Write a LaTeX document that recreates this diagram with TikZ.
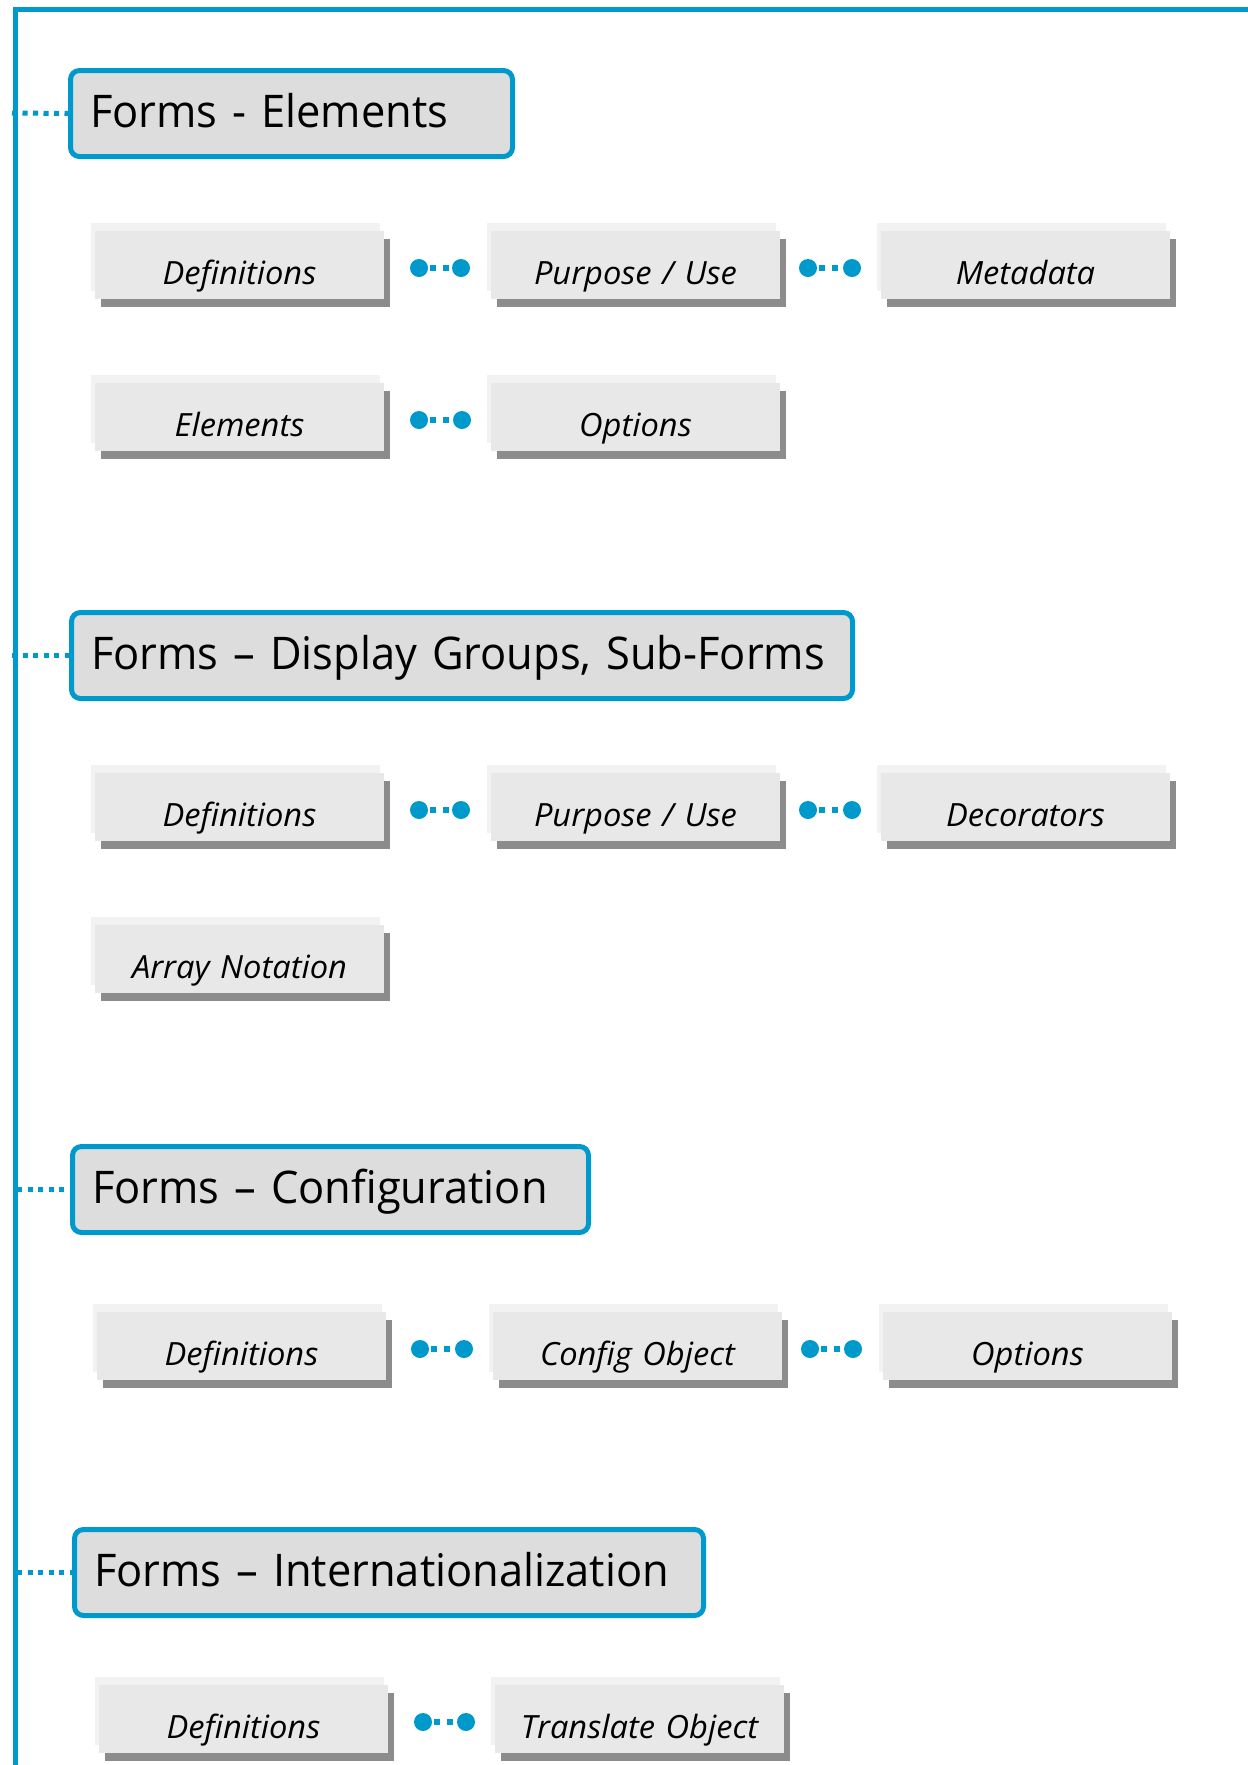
\documentclass[tikz,border=0pt]{standalone}
\usepackage{fontspec}
\newfontfamily\headfont[FakeStretch=0.965]{Open Sans}
\newfontfamily\leaffont[FakeStretch=1.02]{Open Sans}
\usetikzlibrary{backgrounds}

\definecolor{treeblue}{HTML}{0099CC}
\definecolor{headfill}{HTML}{DDDDDD}
\definecolor{leaffill}{HTML}{E8E8E8}
\definecolor{sheetfill}{HTML}{F2F2F2}
\definecolor{shadefill}{HTML}{8C8C8C}

\tikzset{
  trunk/.style={draw=treeblue, line width=5pt},
  headbox/.style={draw=treeblue, line width=5pt, fill=headfill, rounded corners=9pt,
    anchor=north west, outer sep=0pt, inner xsep=19.5pt, inner ysep=0pt,
    text height=56.5pt, text depth=29.5pt, align=left,
    font=\headfont\fontsize{45}{54}\selectfont},
  leafbox/.style={fill=leaffill, anchor=north west, outer sep=0pt, inner sep=0pt,
    text width=289pt, align=center, text height=53pt, text depth=15pt,
    font=\leaffont\itshape\fontsize{32}{37}\selectfont},
  linkend/.style={circle, fill=treeblue, minimum size=18pt, inner sep=0pt, outer sep=0pt},
  linkdots/.style={draw=treeblue, line width=6pt,
    dash pattern=on 0pt off 2pt on 6pt off 7pt on 6pt off 40pt},
  trunkdots/.style={draw=treeblue, line width=5pt, dash pattern=on 5.2pt off 5.3pt}
}

% heading box: name, x, y (top-left of border path), text width, text
\newcommand\headtopic[5]{%
  \node[headbox, text width=#4pt] (#1) at (#2,#3) {\mbox{#5}};}

% grey sheet with a lighter sheet behind it and a drop shade
\newcommand\leafsheet[4]{%
  \node[leafbox] (#1) at (#2,#3) {#4};
  \begin{pgfonlayer}{background}
    \fill[sheetfill] ([shift={(-4.5,-8)}]#1.north west) rectangle ([shift={(-4.5,-8)}]#1.south east);
    \fill[shadefill] ([shift={(5.5,8)}]#1.north west) rectangle ([shift={(5.5,8)}]#1.south east);
  \end{pgfonlayer}}

% dotted link between two round ends
\newcommand\dotlink[5]{%
  \node[linkend] (#1) at (#3,#5) {};
  \node[linkend] (#2) at (#4,#5) {};
  \draw[linkdots] (#1) -- (#2);}

\begin{document}
\begin{tikzpicture}[x=1pt,y=-1pt]
  \useasboundingbox (0,0) rectangle (1248,1765);
  \begin{pgfonlayer}{background}
    \fill[white] (0,0) rectangle (1248,1765);
  \end{pgfonlayer}

  % trunk along the top and down the left side
  \coordinate (topright) at (1260,9);
  \coordinate (corner) at (15,9);
  \coordinate (bottom) at (15,1780);
  \draw[trunk] (topright) -- (corner) -- (bottom);

  % section 1
  \headtopic{h1}{70.5}{70.5}{403}{Forms - Elements}
  \leafsheet{a1}{95}{231}{Definitions}
  \leafsheet{a2}{491}{231}{Purpose / Use}
  \leafsheet{a3}{881}{231}{Metadata}
  \dotlink{a12s}{a12e}{419}{461}{268}
  \dotlink{a23s}{a23e}{808}{852}{268}
  \leafsheet{b1}{95}{383}{Elements}
  \leafsheet{b2}{491}{383}{Options}
  \dotlink{b12s}{b12e}{419}{462}{420}

  % section 2
  \headtopic{h2}{71.5}{612.5}{742}{Forms – Display Groups, Sub-Forms}
  \leafsheet{c1}{95}{773}{Definitions}
  \leafsheet{c2}{491}{773}{Purpose / Use}
  \leafsheet{c3}{881}{773}{Decorators}
  \dotlink{c12s}{c12e}{419}{461}{810}
  \dotlink{c23s}{c23e}{808}{852}{810}
  \leafsheet{d1}{95}{925}{Array Notation}

  % section 3
  \headtopic{h3}{72.5}{1146.5}{477}{Forms – Configuration}
  \leafsheet{e1}{97}{1312}{Definitions}
  \leafsheet{e2}{493}{1312}{Config Object}
  \leafsheet{e3}{883}{1312}{Options}
  \dotlink{e12s}{e12e}{420}{464}{1349}
  \dotlink{e23s}{e23e}{810}{853}{1349}

  % section 4
  \headtopic{h4}{74.5}{1529.5}{590}{Forms – Internationalization}
  \leafsheet{f1}{99}{1685}{Definitions}
  \leafsheet{f2}{495}{1685}{Translate Object}
  \dotlink{f12s}{f12e}{423}{466}{1722}

  % dotted ties from the trunk to each heading
  \coordinate (t1) at (12,113);
  \coordinate (t2) at (12,655.5);
  \coordinate (t3) at (17,1189.5);
  \coordinate (t4) at (17,1572.5);
  \draw[trunkdots] (t1) -- (h1.west);
  \draw[trunkdots] (t2) -- (h2.west);
  \draw[trunkdots] (t3) -- (h3.west);
  \draw[trunkdots] (t4) -- (h4.west);
\end{tikzpicture}
\end{document}
